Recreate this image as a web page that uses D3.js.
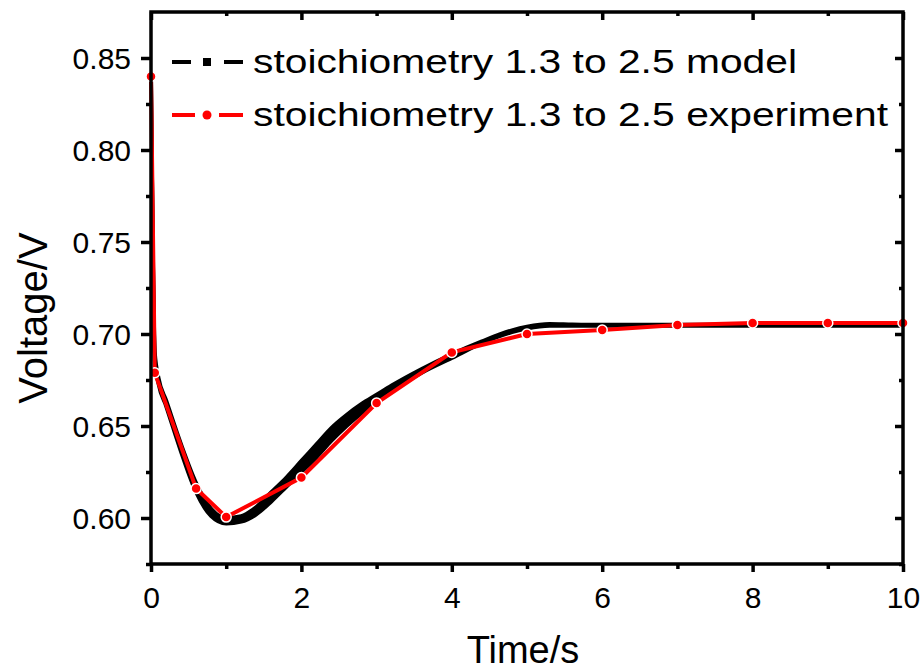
<!DOCTYPE html>
<html><head><meta charset="utf-8">
<script src="https://cdn.jsdelivr.net/npm/d3@7"></script>
<style>html,body{margin:0;padding:0;background:#fff;}svg{display:block;font-family:"Liberation Sans",Arial,sans-serif;}</style>
</head><body><svg id="c" width="922" height="671"></svg>
<script>
// ---- data ----
const expTime = [0, 0.05, 0.6, 1, 2, 3, 4, 5, 6, 7, 8, 9, 10];
const expVolt = [0.840, 0.679, 0.616, 0.6005, 0.622, 0.6625, 0.690, 0.700, 0.7022, 0.7049, 0.706, 0.706, 0.706];
const modelTime = [0, 0.05, 0.1, 0.2, 0.4, 0.6, 0.8, 1.0, 1.2, 1.4, 1.6, 1.8, 2.0, 2.2, 2.4, 2.6, 2.8, 3.0, 3.2, 3.6, 4.0, 4.4, 4.8, 5.0, 5.3, 5.6, 6, 7, 8, 9, 10];
const modelUpper = [0.840, 0.690, 0.676, 0.664, 0.640, 0.619, 0.605, 0.600, 0.601, 0.606, 0.614, 0.622, 0.631, 0.640, 0.649, 0.656, 0.662, 0.667, 0.672, 0.681, 0.689, 0.696, 0.702, 0.704, 0.7055, 0.7052, 0.7050, 0.7050, 0.7050, 0.7050, 0.7050];
const modelLower = [0.840, 0.686, 0.673, 0.661, 0.636, 0.614, 0.601, 0.597, 0.598, 0.602, 0.609, 0.617, 0.625, 0.633, 0.642, 0.650, 0.657, 0.663, 0.669, 0.679, 0.687, 0.695, 0.701, 0.703, 0.7045, 0.7045, 0.7045, 0.7045, 0.7045, 0.7045, 0.7045];
const xTicks = [0, 2, 4, 6, 8, 10];
const xMinor = [1, 3, 5, 7, 9];
const yTicks = [0.60, 0.65, 0.70, 0.75, 0.80, 0.85];
const yMinor = [0.575, 0.625, 0.675, 0.725, 0.775, 0.825];
const legendLabels = ["stoichiometry 1.3 to 2.5 model", "stoichiometry 1.3 to 2.5 experiment"];
const xTitle = "Time/s", yTitle = "Voltage/V";

// ---- layout ----
const svg = d3.select("#c");
const L = 151, R = 903, T = 12, B = 564;
const x = d3.scaleLinear().domain([0, 10]).range([L, R]);
const y = d3.scaleLinear().domain([0.575, 0.875]).range([B, T]);

const plot = svg.append("g");
plot.append("clipPath").attr("id","clip").append("rect").attr("x",L).attr("y",T).attr("width",R-L).attr("height",B-T);

// model band (family of model curves)
const band = modelTime.map((t,i)=>({t, lo: modelLower[i], hi: modelUpper[i]}));
const area = d3.area().x(d => x(d.t)).y0(d => y(d.lo)).y1(d => y(d.hi)).curve(d3.curveMonotoneX);
plot.append("path").datum(band).attr("d", area).attr("fill","#000").attr("clip-path","url(#clip)");
const line = d3.line().x(d => x(d[0])).y(d => y(d[1])).curve(d3.curveMonotoneX);
[modelUpper, modelLower].forEach(arr => {
  plot.append("path").datum(modelTime.map((t,i)=>[t, arr[i]]))
    .attr("d", line).attr("fill","none").attr("stroke","#000").attr("stroke-width",4)
    .attr("clip-path","url(#clip)");
});

// experiment
const lineLin = d3.line().x(d => x(d[0])).y(d => y(d[1]));
const expPts = expTime.map((t,i)=>[t, expVolt[i]]);
plot.append("path").datum(expPts).attr("d", lineLin).attr("fill","none")
  .attr("stroke","#ff0000").attr("stroke-width",4);
plot.selectAll("circle.e").data(expPts).enter().append("circle")
  .attr("cx", d=>x(d[0])).attr("cy", d=>y(d[1])).attr("r",5)
  .attr("fill","#ff0000").attr("stroke","#fff").attr("stroke-width",1.5);

// axes
const axBottom = d3.axisBottom(x).tickValues(xTicks).tickSize(8).tickFormat(d3.format("d"));
const axBottomMinor = d3.axisBottom(x).tickValues(xMinor).tickSize(5).tickFormat("");
const axLeft = d3.axisLeft(y).tickValues(yTicks).tickSize(10).tickFormat(d3.format(".2f"));
const axLeftMinor = d3.axisLeft(y).tickValues(yMinor).tickSize(5).tickFormat("");
const axTop = d3.axisBottom(x).tickValues(xTicks).tickSize(8).tickFormat("");
const axTopMinor = d3.axisBottom(x).tickValues(xMinor).tickSize(4).tickFormat("");
const axRight = d3.axisLeft(y).tickValues(yTicks).tickSize(8).tickFormat("");
const axRightMinor = d3.axisLeft(y).tickValues(yMinor).tickSize(4).tickFormat("");

function styleAxis(g){
  g.select(".domain").remove();
  g.selectAll(".tick line").attr("stroke","#000").attr("stroke-width",3.5);
  g.selectAll("text").attr("fill","#000").style("font-size","30px").style("font-family","'Liberation Sans', Arial, sans-serif");
}
svg.append("g").attr("transform",`translate(0,${B})`).call(axBottom).call(styleAxis)
  .selectAll("text").attr("dy",null).attr("y",44);
svg.append("g").attr("transform",`translate(0,${B})`).call(axBottomMinor).call(styleAxis);
svg.append("g").attr("transform",`translate(${L},0)`).call(axLeft).call(styleAxis)
  .selectAll("text").attr("x",-20).attr("dy","0.35em");
svg.append("g").attr("transform",`translate(${L},0)`).call(axLeftMinor).call(styleAxis);
svg.append("g").attr("transform",`translate(0,${T})`).call(axTop).call(styleAxis);
svg.append("g").attr("transform",`translate(0,${T})`).call(axTopMinor).call(styleAxis);
svg.append("g").attr("transform",`translate(${R},0)`).call(axRight).call(styleAxis);
svg.append("g").attr("transform",`translate(${R},0)`).call(axRightMinor).call(styleAxis);

// frame
svg.append("rect").attr("x",L).attr("y",T).attr("width",R-L).attr("height",B-T)
  .attr("fill","none").attr("stroke","#000").attr("stroke-width",3.5);

// titles
svg.append("text").attr("x",(L+R)/2 - 4).attr("y",663).attr("text-anchor","middle")
  .style("font-size","38px").text(xTitle);
svg.append("text").attr("transform",`translate(47,318) rotate(-90)`).attr("text-anchor","middle")
  .style("font-size","40px").text(yTitle);

// legend
const lg = svg.append("g");
const legY = [62, 115];
const legW = [544, 635];
lg.append("line").attr("x1",172).attr("x2",191).attr("y1",legY[0]).attr("y2",legY[0]).attr("stroke","#000").attr("stroke-width",4);
lg.append("line").attr("x1",224).attr("x2",243).attr("y1",legY[0]).attr("y2",legY[0]).attr("stroke","#000").attr("stroke-width",4);
lg.append("rect").attr("x",203).attr("y",legY[0]-4).attr("width",8).attr("height",8).attr("fill","#000");
lg.append("line").attr("x1",172).attr("x2",195).attr("y1",legY[1]).attr("y2",legY[1]).attr("stroke","#ff0000").attr("stroke-width",4);
lg.append("line").attr("x1",219).attr("x2",243).attr("y1",legY[1]).attr("y2",legY[1]).attr("stroke","#ff0000").attr("stroke-width",4);
lg.append("circle").attr("cx",207).attr("cy",legY[1]).attr("r",4.5).attr("fill","#ff0000");
legendLabels.forEach((s,i)=>{
  lg.append("text").attr("x",253).attr("y",legY[i]+11).style("font-size","34px")
    .attr("textLength",legW[i]).attr("lengthAdjust","spacingAndGlyphs").text(s);
});
</script></body></html>
